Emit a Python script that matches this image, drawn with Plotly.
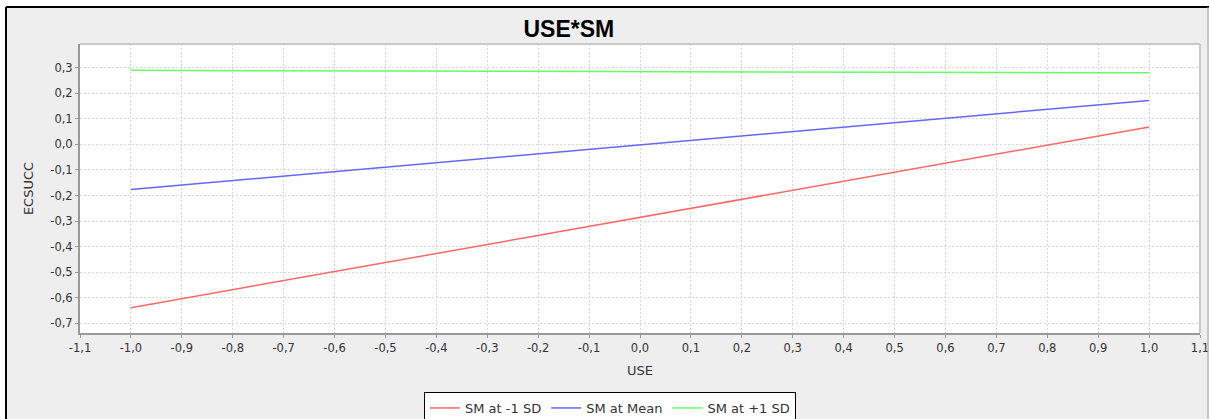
import plotly.graph_objects as go

# Data
use_x = [-1.0, 1.0]
sm_low = [-0.639, 0.068]
sm_mean = [-0.176, 0.172]
sm_high = [0.290, 0.280]
series_names = ["SM at -1 SD", "SM at Mean", "SM at +1 SD"]
series_colors = ["#ff6666", "#6666ff", "#66ff66"]

x_ticks = [-1.1, -1.0, -0.9, -0.8, -0.7, -0.6, -0.5, -0.4, -0.3, -0.2, -0.1,
           0.0, 0.1, 0.2, 0.3, 0.4, 0.5, 0.6, 0.7, 0.8, 0.9, 1.0, 1.1]
x_labels = ["-1,1", "-1,0", "-0,9", "-0,8", "-0,7", "-0,6", "-0,5", "-0,4", "-0,3", "-0,2", "-0,1",
            "0,0", "0,1", "0,2", "0,3", "0,4", "0,5", "0,6", "0,7", "0,8", "0,9", "1,0", "1,1"]
y_ticks = [0.3, 0.2, 0.1, 0.0, -0.1, -0.2, -0.3, -0.4, -0.5, -0.6, -0.7]
y_labels = ["0,3", "0,2", "0,1", "0,0", "-0,1", "-0,2", "-0,3", "-0,4", "-0,5", "-0,6", "-0,7"]

W, H = 1209, 419
L, R, T, B = 80, 9, 44, 86
pw, ph = W - L - R, H - T - B

def px(x):
    return (x - L) / pw

def py(y):
    return (H - B - y) / ph

fig = go.Figure()
for name, ys, col in zip(series_names, [sm_low, sm_mean, sm_high], series_colors):
    fig.add_trace(go.Scatter(x=use_x, y=ys, mode="lines", name=name,
                             line=dict(color=col, width=1.5)))

shapes = [
    dict(type="rect", xref="paper", yref="paper", x0=px(-5), x1=px(6), y0=py(430), y1=py(-5),
         fillcolor="white", line=dict(width=0)),
    dict(type="rect", xref="paper", yref="paper", x0=px(-5), x1=px(1215), y0=py(7), y1=py(-5),
         fillcolor="white", line=dict(width=0)),
    dict(type="line", xref="paper", yref="paper", x0=px(6), x1=px(6), y0=py(430), y1=py(7),
         line=dict(color="black", width=2)),
    dict(type="line", xref="paper", yref="paper", x0=px(6), x1=px(1215), y0=py(7), y1=py(7),
         line=dict(color="black", width=2)),
    dict(type="line", xref="paper", yref="paper", x0=px(1208), x1=px(1208), y0=py(430), y1=py(7),
         line=dict(color="#a0a0a0", width=1)),
    dict(type="line", xref="paper", yref="paper", x0=0, x1=1, y0=1, y1=1,
         line=dict(color="#c8c8c8", width=2)),
    dict(type="line", xref="paper", yref="paper", x0=1, x1=1, y0=0, y1=1,
         line=dict(color="#c8c8c8", width=2)),
]

axis_font = dict(family="DejaVu Sans, Arial, sans-serif", size=11.5, color="#333333")
title_font = dict(family="DejaVu Sans, Arial, sans-serif", size=13, color="#333333")

fig.update_layout(
    width=W, height=H,
    margin=dict(l=L, r=R, t=T, b=B, autoexpand=False),
    paper_bgcolor="#eeeeee",
    plot_bgcolor="white",
    title=dict(text="<b>USE*SM</b>", x=px(607), xanchor="center", y=1 - 29 / H, yanchor="middle",
               font=dict(family="Liberation Sans, Arial, sans-serif", size=23, color="black")),
    shapes=shapes,
    showlegend=True,
    legend=dict(orientation="h", x=px(424), xanchor="left", y=py(392), yanchor="top",
                bgcolor="white", bordercolor="black", borderwidth=1,
                font=dict(family="DejaVu Sans, Arial, sans-serif", size=13, color="#333333"),
                itemwidth=30, tracegroupgap=0),
    xaxis=dict(range=[-1.1, 1.1], tickvals=x_ticks, ticktext=x_labels,
               showgrid=True, gridcolor="#d8d8d8", griddash="2px,2px", gridwidth=1,
               zeroline=False, showline=True, linecolor="#999999", linewidth=2,
               ticks="outside", ticklen=3, tickcolor="#999999", tickfont=axis_font,
               automargin=False, ticklabeloverflow="allow",
               title=dict(text="USE", font=title_font, standoff=12)),
    yaxis=dict(range=[-0.738, 0.393], tickvals=y_ticks, ticktext=y_labels,
               showgrid=True, gridcolor="#d8d8d8", griddash="2px,2px", gridwidth=1,
               zeroline=False, showline=True, linecolor="#999999", linewidth=2,
               ticks="outside", ticklen=3, tickcolor="#999999", tickfont=axis_font,
               automargin=False,
               title=dict(text="ECSUCC", font=title_font, standoff=14)),
)

fig.write_html("out.html", config={"displayModeBar": False},
               post_script="document.body.style.margin='0';document.body.style.overflow='hidden';")
